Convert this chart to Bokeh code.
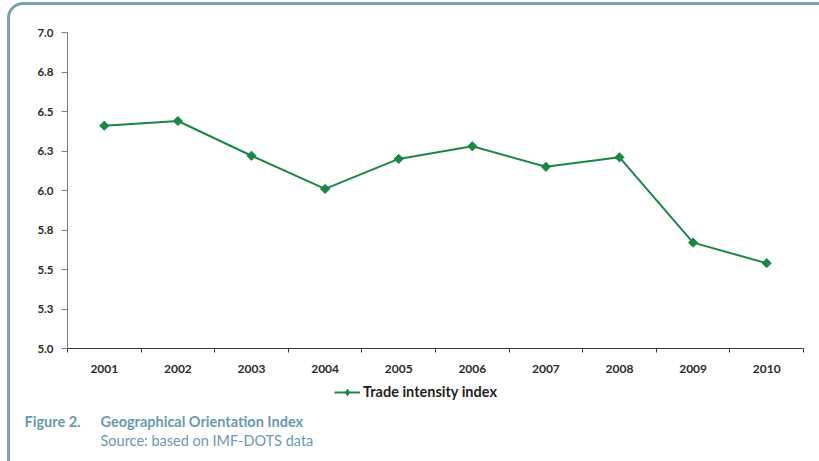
import math
from bokeh.plotting import figure
from bokeh.layouts import column
from bokeh.models import (FixedTicker, Legend, LegendItem, Label, Range1d, InlineStyleSheet)
from bokeh.embed import file_html
from bokeh.resources import INLINE

# ---- data ----
years = ["2001", "2002", "2003", "2004", "2005", "2006", "2007", "2008", "2009", "2010"]
trade_intensity = [6.41, 6.44, 6.22, 6.01, 6.20, 6.28, 6.15, 6.21, 5.67, 5.54]
y_ticks = [5.0, 5.25, 5.5, 5.75, 6.0, 6.25, 6.5, 6.75, 7.0]
y_tick_labels = ["5.0", "5.3", "5.5", "5.8", "6.0", "6.3", "6.5", "6.8", "7.0"]
series_name = "Trade intensity index"
fig_label = "Figure 2."
fig_title = "Geographical Orientation Index"
fig_source = "Source: based on IMF-DOTS data"

GREEN = "#1b8746"
CAPTION = "#6a98ad"
FRAME = "#7d9fae"
FONT = "Lato"

xs = [i + 0.5 for i in range(len(years))]

# ---------------- chart ----------------
p = figure(width=819, height=380, output_backend="svg", toolbar_location=None,
           x_range=Range1d(0, len(years)), y_range=Range1d(5.0, 7.0),
           min_border_left=67, min_border_right=16, min_border_top=32, min_border_bottom=32)
p.xgrid.visible = False
p.ygrid.visible = False
p.outline_line_color = None
p.background_fill_color = "white"
p.border_fill_color = "white"
p.styles = {"overflow": "hidden"}
p.stylesheets = [InlineStyleSheet(css=(
    ":host::after { content: ''; position: absolute; left: 7px; top: 2px; "
    "width: 900px; height: 700px; border: 3px solid " + FRAME + "; border-radius: 16px; "
    "box-sizing: border-box; pointer-events: none; }"))]

# y axis
p.yaxis.ticker = FixedTicker(ticks=y_ticks, minor_ticks=[])
p.yaxis.major_label_overrides = {t: l for t, l in zip(y_ticks, y_tick_labels)}
p.yaxis.axis_line_color = "#7f7f7f"
p.yaxis.major_tick_line_color = "#7f7f7f"
p.yaxis.major_tick_out = 6
p.yaxis.major_tick_in = 0
p.yaxis.major_label_standoff = 8
p.yaxis.major_label_text_font = FONT
p.yaxis.major_label_text_font_style = "bold"
p.yaxis.major_label_text_font_size = "11.5px"
p.yaxis.major_label_text_color = "#2b2b2b"

# x axis: labels at centres, tick marks at category boundaries
p.xaxis.ticker = FixedTicker(ticks=xs, minor_ticks=list(range(len(years) + 1)))
p.xaxis.major_label_overrides = {x: y for x, y in zip(xs, years)}
p.xaxis.axis_line_color = "#3a3a3a"
p.xaxis.major_tick_out = 0
p.xaxis.major_tick_in = 0
p.xaxis.minor_tick_out = 4
p.xaxis.minor_tick_in = 0
p.xaxis.minor_tick_line_color = "#3a3a3a"
p.xaxis.major_label_standoff = 12
p.xaxis.major_label_text_font = FONT
p.xaxis.major_label_text_font_style = "bold"
p.xaxis.major_label_text_font_size = "12px"
p.xaxis.major_label_text_color = "#2b2b2b"

p.line(xs, trade_intensity, line_color=GREEN, line_width=2)
p.scatter(xs, trade_intensity, marker="square", size=6.5, angle=math.pi / 4,
          fill_color=GREEN, line_color=GREEN)

# ---------------- legend + caption strip ----------------
q = figure(width=819, height=81, output_backend="svg", toolbar_location=None,
           x_range=Range1d(0, 1), y_range=Range1d(0, 1),
           min_border_left=0, min_border_right=0, min_border_top=0, min_border_bottom=0)
q.axis.visible = False
q.xgrid.visible = False
q.ygrid.visible = False
q.outline_line_color = None
q.background_fill_color = "white"
q.border_fill_color = "white"
q.styles = {"overflow": "hidden"}
q.stylesheets = [InlineStyleSheet(css=(
    ":host::after { content: ''; position: absolute; left: 7px; top: 0px; "
    "width: 3px; height: 100%; background: " + FRAME + "; pointer-events: none; z-index: 5; }"))]

for fig in (p, q):
    if "frame_align" in fig.properties():
        fig.frame_align = False

# legend entry: the series drawn again, outside this strip's visible range
k_line = q.line(xs, trade_intensity, line_color=GREEN, line_width=2)
k_pts = q.scatter(xs, trade_intensity, marker="diamond", size=10,
                  fill_color=GREEN, line_color=GREEN)

legend = Legend(items=[LegendItem(label=series_name, renderers=[k_line, k_pts])],
                location=(334, 61), orientation="horizontal",
                glyph_width=26, glyph_height=16, padding=0, margin=0, spacing=0,
                label_standoff=3, border_line_color=None, background_fill_alpha=0,
                label_text_font=FONT, label_text_font_style="bold",
                label_text_font_size="14.5px", label_text_color="#1f1f1f")
q.add_layout(legend, "center")

q.add_layout(Label(x=24, y=40, x_units="screen", y_units="screen", text=fig_label,
                   text_font=FONT, text_font_style="bold", text_font_size="14.5px",
                   text_color=CAPTION, text_baseline="middle"))
q.add_layout(Label(x=100, y=40, x_units="screen", y_units="screen", text=fig_title,
                   text_font=FONT, text_font_style="bold", text_font_size="14.5px",
                   text_color=CAPTION, text_baseline="middle"))
q.add_layout(Label(x=100, y=21, x_units="screen", y_units="screen", text=fig_source,
                   text_font=FONT, text_font_size="14.5px",
                   text_color=CAPTION, text_baseline="middle"))

layout = column(p, q, spacing=0)
open("out.html", "w").write(file_html(layout, INLINE))
